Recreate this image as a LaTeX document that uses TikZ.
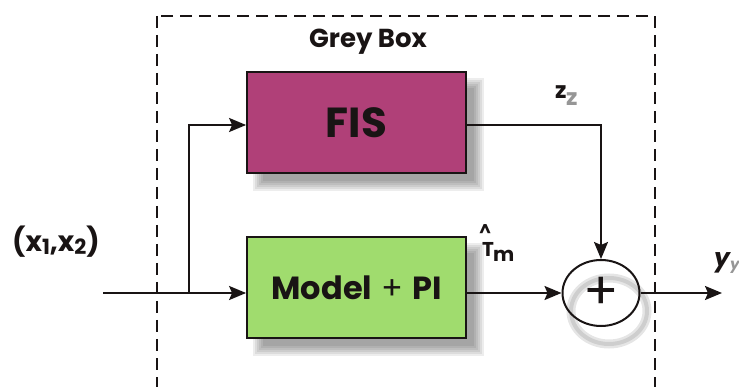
\documentclass[tikz,border=0pt]{standalone}
\usepackage{fontspec}
\usepackage{amsmath}
\setmainfont{Poppins}
\usetikzlibrary{arrows.meta,shapes.geometric}
\definecolor{fismag}{RGB}{176,64,120}
\definecolor{modgreen}{RGB}{160,220,110}
\definecolor{ink}{RGB}{25,20,20}
\definecolor{subgrey}{RGB}{150,150,150}
\begin{document}
\begin{tikzpicture}[x=1pt,y=-1pt,
  conn/.style={draw=ink, line width=2pt, -{Stealth[length=17pt,width=14pt,inset=3pt]}},
  plainline/.style={draw=ink, line width=2pt},
  block/.style={draw=ink, line width=1.8pt, minimum width=219pt, minimum height=101pt, inner sep=0pt, font=\bfseries, text=ink},
  lbl/.style={inner sep=0pt, text=ink},
  shadowlayer/.style={fill=black, opacity=0.07}
]
\useasboundingbox (0,0) rectangle (739,387);
\clip (0,0) rectangle (739,387);
% grey box frame
\draw[ink, line width=2pt, dash pattern=on 12pt off 7pt] (157,16) rectangle (655,400);
\node[lbl, anchor=base, font=\fontsize{26}{26}\selectfont\bfseries] (title) at (368,48) {Grey Box};
% blurred shadows of the blocks
\foreach \s in {-4,-2,0,2,4,6}{
  \fill[shadowlayer] (259-\s,84-\s) rectangle (478+\s,185+\s);
  \fill[shadowlayer] (259-\s,249-\s) rectangle (478+\s,350+\s);
}
% blocks
\node[block, fill=fismag, font=\fontsize{42}{42}\selectfont\bfseries] (fis) at (356.5,122.5) {FIS};
\node[block, fill=modgreen, font=\fontsize{32}{32}\selectfont\bfseries] (model) at (356.5,287.5) {Model\hspace{9pt}{\mdseries+}\hspace{9pt}PI};
% summing junction shadow
\draw[black, opacity=0.10, line width=9pt] (609,311) ellipse (38pt and 33pt);
\draw[black, opacity=0.10, line width=4pt] (609,311) ellipse (38pt and 33pt);
\node[ellipse, draw=ink, line width=2pt, minimum width=77pt, minimum height=66pt, inner sep=0pt, text=ink, font=\fontsize{52}{52}\selectfont] (sum) at (601,293) {+};
% connectors
\coordinate (in) at (103,293);
\coordinate (branch) at (189,293);
\coordinate (out) at (722,293);
\coordinate (fisin) at ([yshift=-2.5pt]fis.west);
\coordinate (fisout) at ([yshift=-2.5pt]fis.east);
\coordinate (modin) at (model.west |- in);
\coordinate (modout) at (model.east |- in);
\draw[plainline] (in) -- (branch);
\draw[conn] (branch) -- (modin);
\draw[conn] (branch) |- (fisin);
\draw[conn] (fisout) -| (sum.north);
\draw[conn] (modout) -- (sum.west);
\draw[conn] (sum.east) -- (out);
% labels
\node[lbl, anchor=base west, font=\fontsize{28}{28}\selectfont\bfseries] (xlab) at (12,252)
  {(x\raisebox{-3pt}{\fontsize{21}{21}\selectfont 1},x\raisebox{-3pt}{\fontsize{21}{21}\selectfont 2})};
\node[lbl, anchor=base west, font=\fontsize{23}{23}\selectfont\bfseries] (zlab) at (555,99)
  {z\kern-0.5pt\raisebox{-7pt}{\textcolor{subgrey}{z}}};
\node[lbl, anchor=base west, font=\fontsize{17}{17}\selectfont\bfseries] (that) at (479,237) {\^{}};
\node[lbl, anchor=base west, font=\fontsize{20}{20}\selectfont\bfseries] (tlab) at (482,257)
  {T\kern-1pt\raisebox{-5pt}{m}};
\node[lbl, anchor=base west, font=\fontsize{25}{25}\selectfont\bfseries\itshape] (ylab) at (714,267)
  {y\raisebox{-3pt}{\textcolor{subgrey}{\fontsize{15}{15}\selectfont y}}};
\end{tikzpicture}
\end{document}
